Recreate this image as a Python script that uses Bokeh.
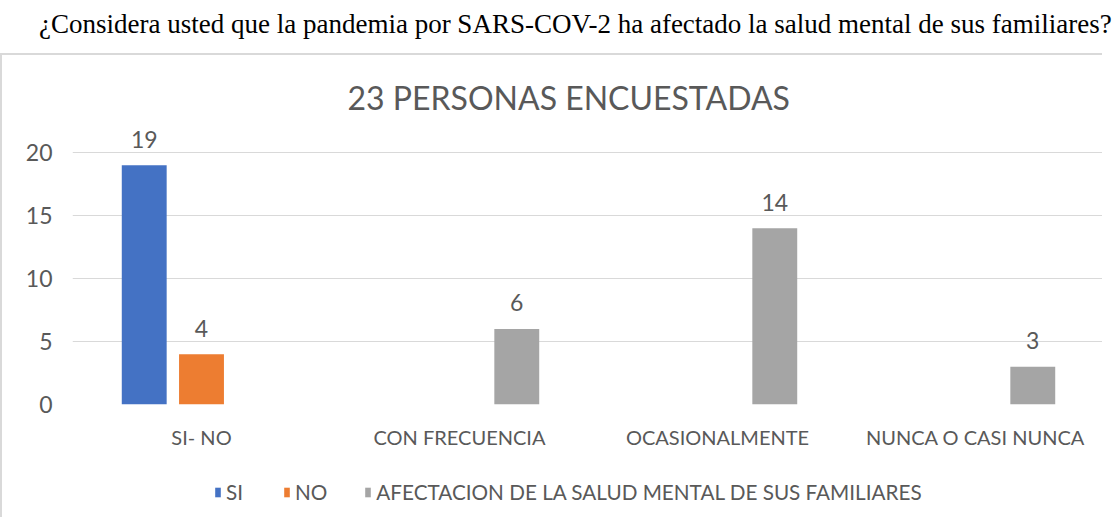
from bokeh.plotting import figure
from bokeh.models import (ColumnDataSource, FactorRange, Legend, LegendItem, Div,
                          FixedTicker, Range1d)
from bokeh.transform import dodge
from bokeh.layouts import column
from bokeh.core.properties import value
from bokeh.embed import file_html
from bokeh.resources import INLINE

# ---------------- data ----------------
header_text = "¿Considera usted que la pandemia por SARS-COV-2 ha afectado la salud mental de sus familiares?"
chart_title = "23 PERSONAS ENCUESTADAS"
categories = ["SI- NO", "CON FRECUENCIA", "OCASIONALMENTE", "NUNCA O CASI NUNCA"]
series_names = ["SI", "NO", "AFECTACION DE LA SALUD MENTAL DE SUS FAMILIARES"]
si_values = [19, None, None, None]
no_values = [4, None, None, None]
afectacion_values = [None, 6, 14, 3]
y_ticks = [0, 5, 10, 15, 20]

colors = ["#4472C4", "#ED7D31", "#A5A5A5"]
text_gray = "#595959"
grid_gray = "#D9D9D9"
FONT = "Lato"

def make_source(vals):
    cats = [c for c, v in zip(categories, vals) if v is not None]
    vs = [v for v in vals if v is not None]
    return ColumnDataSource(dict(cat=cats, val=vs, lbl=[str(v) for v in vs]))

sources = [make_source(si_values), make_source(no_values), make_source(afectacion_values)]
offsets = [-0.222, 0.0, 0.222]
bar_width = 0.174

header = Div(
    text=header_text,
    width=1104, height=43,
    styles={"font-family": "'Liberation Serif'", "font-size": "27px", "color": "#000000",
            "text-align": "center", "width": "1104px", "padding-top": "0px",
            "padding-left": "34px",
            "box-sizing": "border-box", "white-space": "nowrap"},
)

p = figure(
    x_range=FactorRange(*categories, range_padding=0),
    y_range=(0, 22),
    width=1102, height=396,
    output_backend="svg", toolbar_location=None,
    title=chart_title,
    min_border_left=70, min_border_right=0, min_border_top=72, min_border_bottom=42,
    styles={"border-left": f"2px solid {grid_gray}", "border-top": f"2px solid {grid_gray}"},
)
p.title.align = "left"
p.title.text_font = FONT
p.title.text_font_size = "32px"
p.title.text_font_style = "normal"
p.title.text_color = text_gray
p.title.standoff = 22
p.title.offset = 275

for src, off, col in zip(sources, offsets, colors):
    p.vbar(x=dodge("cat", off, range=p.x_range), top="val", width=bar_width,
           source=src, fill_color=col, line_color=None)
    p.text(x=dodge("cat", off, range=p.x_range), y="val", text="lbl", source=src,
           text_align="center", text_baseline="alphabetic", y_offset=-26,
           text_font=value(FONT), text_font_size="23px", text_color=text_gray)

p.outline_line_color = None
p.xgrid.grid_line_color = None
p.ygrid.grid_line_color = grid_gray
p.ygrid.grid_line_width = 1
p.yaxis.ticker = FixedTicker(ticks=y_ticks)
p.yaxis.axis_line_color = None
p.yaxis.major_tick_line_color = None
p.yaxis.minor_tick_line_color = None
p.yaxis.major_label_text_font = FONT
p.yaxis.major_label_text_font_size = "23px"
p.yaxis.major_label_text_color = text_gray
p.yaxis.major_label_standoff = 14

p.xaxis.axis_line_color = None
p.xaxis.major_tick_line_color = None
p.xaxis.minor_tick_line_color = None
p.xaxis.major_label_text_font = FONT
p.xaxis.major_label_text_font_size = "20px"
p.xaxis.major_label_text_color = text_gray
p.xaxis.major_label_standoff = 14

# ---- legend strip (continues the chart box below the axis) ----
lg = figure(
    width=1102, height=68,
    x_range=FactorRange(*categories, range_padding=0), y_range=Range1d(-2, -1),
    x_axis_location=None, y_axis_location=None,
    output_backend="svg", toolbar_location=None,
    min_border_left=0, min_border_right=0, min_border_top=0, min_border_bottom=0,
    styles={"border-left": f"2px solid {grid_gray}"},
)
lg.grid.grid_line_color = None
lg.outline_line_color = None
# same series as zero-height bars pushed far outside this strip's visible area:
# only their legend keys show
legend_renderers = [lg.vbar(x=dodge("cat", 20, range=lg.x_range), top="val", bottom="val",
                            width=bar_width, source=src, fill_color=c, line_color=None)
                    for src, c in zip(sources, colors)]
legend = Legend(
    items=[LegendItem(label=n, renderers=[r]) for n, r in zip(series_names, legend_renderers)],
    orientation="horizontal", location=(142, 13),
    border_line_color=None, background_fill_alpha=0,
    label_text_font=FONT, label_text_font_size="20.7px", label_text_color=text_gray,
    glyph_width=7, glyph_height=12, label_standoff=5, spacing=37,
    padding=0, margin=0,
)
lg.add_layout(legend, "center")

layout = column(header, p, lg)
open("out.html", "w").write(file_html(layout, INLINE))
